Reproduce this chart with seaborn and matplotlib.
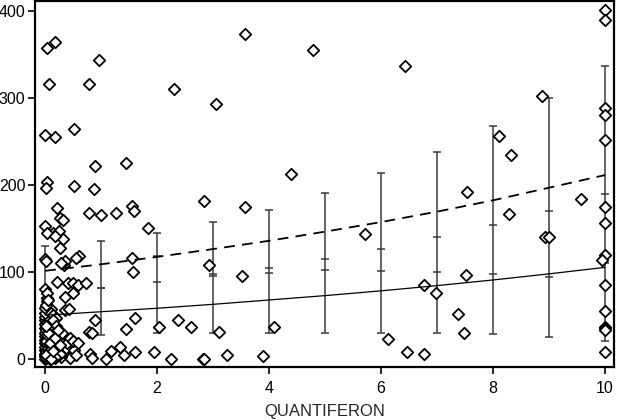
import seaborn as sns
import matplotlib.pyplot as plt
import pandas as pd

# scattered observations (QUANTIFERON, response)
qft_x = [0.04, 0.18, 0.07, 0.79, 0.96, 2.30, 0.0, 0.18, 0.52, 0.89, 1.45, 0.03, 0.01, 0.52, 0.87, 2.84,
         0.22, 0.79, 0.99, 1.26, 1.55, 1.58, 1.83, 0.26, 0.32, 0.0, 0.14, 0.24, 0.03, 0.32, 0.26, 0.60,
         0.56, 0.0, 0.02, 0.34, 0.36, 1.56, 1.57, 0.21, 0.41, 0.49, 0.58, 0.73, 0.49, 0.35, 0.0, 0.03,
         0.03, 0.10, 0.36, 0.42, 0.90, 1.61, 1.45, 0.79, 0.84, 2.03, 2.38, 2.61, 1.34, 1.17, 1.09, 1.41,
         1.61, 1.95, 2.24, 2.82, 0.80, 0.83, 0.45, 0.48, 0.18, 0.28,
         3.57, 4.79, 6.43, 3.05, 4.40, 3.57, 5.71, 2.92, 3.52, 3.10, 4.08, 2.83, 3.24, 3.90, 6.12, 6.46,
         10, 10, 8.88, 8.11, 8.32, 7.53, 9.57, 10, 10, 10, 8.29, 8.92, 9.0, 10, 10, 10, 9.94, 10, 10,
         10, 10, 10, 10, 6.77, 6.98, 7.52, 7.37, 7.48, 6.77,
         0, 0, 0, 0, 0, 0, 0, 0, 0, 0, 0, 0, 0,
         0.02, 0.02, 0.03, 0.03, 0.02, 0.03, 0.05, 0.06, 0.05, 0.06, 0.05, 0.07,
         0.08, 0.09, 0.10, 0.09, 0.10, 0.11, 0.12, 0.13, 0.14, 0.15,
         0.17, 0.18, 0.19, 0.20, 0.22, 0.24, 0.25, 0.28, 0.30, 0.33, 0.38, 0.39, 0.45, 0.52, 0.55, 0.50, 0.58,
         0, 0, 0.02, 0.04, 0.06, 0.10, 0.15, 0.20,
         0.04, 0.07, 0.11, 0.16, 0.21, 0.12, 0.08, 0.03, 0.14, 0.19, 0.26, 0.06,
         0.01, 0.04, 0.07, 0.09, 0.12, 0.15, 0.18, 0.02, 0.05, 0.08, 0.11, 0.14, 0.17, 0.23, 0.27, 0.01]
qft_y = [357, 364, 316, 316, 343, 310, 257, 255, 264, 221, 225, 203, 196, 198, 195, 181,
         173, 168, 165, 168, 175, 170, 150, 162, 159, 152, 144, 147, 144, 137, 127, 118,
         116, 115, 112, 108, 112, 116, 100, 88, 87, 87, 85, 87, 75, 71, 80, 70,
         66, 57, 56, 57, 44, 47, 34, 31, 30, 37, 45, 36, 14, 9, 0, 4,
         8, 8, 0, 0, 6, 1, 1, 18, 141, 110,
         373, 355, 336, 293, 212, 174, 143, 108, 95, 31, 36, 0, 4, 3, 23, 8,
         401, 389, 302, 256, 234, 191, 184, 288, 280, 251, 166, 140, 140, 174, 156, 119, 113, 85, 55,
         37, 35, 33, 8, 85, 75, 96, 51, 30, 6,
         0, 3, 6, 10, 14, 18, 22, 26, 30, 35, 40, 45, 48,
         1, 8, 16, 24, 33, 42, 2, 12, 20, 28, 38, 46,
         0, 6, 15, 22, 31, 40, 3, 11, 25, 35,
         1, 8, 18, 28, 5, 14, 22, 2, 29, 8, 12, 18, 24, 10, 4, 20, 18,
         52, 58, 62, 75, 68, 52, 50, 47,
         5, 9, 19, 4, 12, 33, 26, 37, 44, 38, 6, 30,
         20, 27, 34, 10, 20, 28, 2, 4, 30, 18, 0, 9, 24, 33, 16, 38]

# fitted curves
curve_x = [0, 1, 2, 3, 4, 5, 6, 7, 8, 9, 10]
solid_y = [50, 54, 58, 62.5, 67.5, 72.5, 78, 84, 90.5, 97.5, 105]
dashed_y = [101, 108.5, 117, 126, 135.5, 146, 157, 169, 182, 196.5, 211]

# interval bars at each integer
bar_x = [0, 1, 2, 3, 4, 5, 6, 7, 8, 9, 10]
bar_lo = [3, 27, 29, 29.5, 30, 30, 30, 29, 28.5, 25, 20]
bar_hi = [129, 135, 145, 157, 171, 190, 213, 237, 267, 299, 336]
tick_a = [70, 81, 118, 97, 104, 115, 126, 139.5, 154, 170, 189]
tick_b = [40, 81, 88.5, 95, 99, 101.5, 101, 99.5, 97.5, 94, 110]

pts = pd.DataFrame({'QUANTIFERON': qft_x, 'value': qft_y})
curves = pd.DataFrame({'x': curve_x, 'solid': solid_y, 'dashed': dashed_y})

sns.set_style('ticks')
plt.rcParams['font.family'] = ['Liberation Sans', 'DejaVu Sans']

fig = plt.figure(figsize=(6.17, 4.2), dpi=100)
ax = fig.add_axes([35 / 617, 1 - 367 / 420, 579 / 617, 366 / 420])

sns.scatterplot(data=pts, x='QUANTIFERON', y='value', marker='D', s=34,
                facecolor='white', edgecolor='black', linewidth=1.3, ax=ax, zorder=3)

mid = [(a + b) / 2 for a, b in zip(bar_lo, bar_hi)]
half = [(b - a) / 2 for a, b in zip(bar_lo, bar_hi)]
ax.errorbar(bar_x, mid, yerr=half, fmt='none', ecolor='#3a3a3a', elinewidth=1.1,
            capsize=2.8, capthick=1.1, zorder=2)
ax.scatter(bar_x, tick_a, marker='_', s=30, color='#3a3a3a', linewidths=1.1, zorder=2)
ax.scatter(bar_x, tick_b, marker='_', s=30, color='#3a3a3a', linewidths=1.1, zorder=2)

sns.lineplot(data=curves, x='x', y='solid', color='black', linewidth=0.9, ax=ax, zorder=4)
sns.lineplot(data=curves, x='x', y='dashed', color='black', linewidth=1.3,
             linestyle=(0, (6, 4)), ax=ax, zorder=4)

ax.set_xlim(-0.18, 10.16)
ax.set_ylim(-9.5, 411)
ax.set_xticks([0, 2, 4, 6, 8, 10])
ax.set_yticks([0, 100, 200, 300, 400])
ax.set_xlabel('QUANTIFERON', fontsize=12, labelpad=6)
ax.set_ylabel('')
ax.tick_params(labelsize=11.5, length=5, width=1.2, direction='out', colors='black')
ax.tick_params(axis='y', pad=2)
ax.tick_params(axis='x', pad=5)
for s in ax.spines.values():
    s.set_visible(True)
    s.set_linewidth(1.6)
    s.set_color('black')

fig.savefig('out.png', dpi=100)
